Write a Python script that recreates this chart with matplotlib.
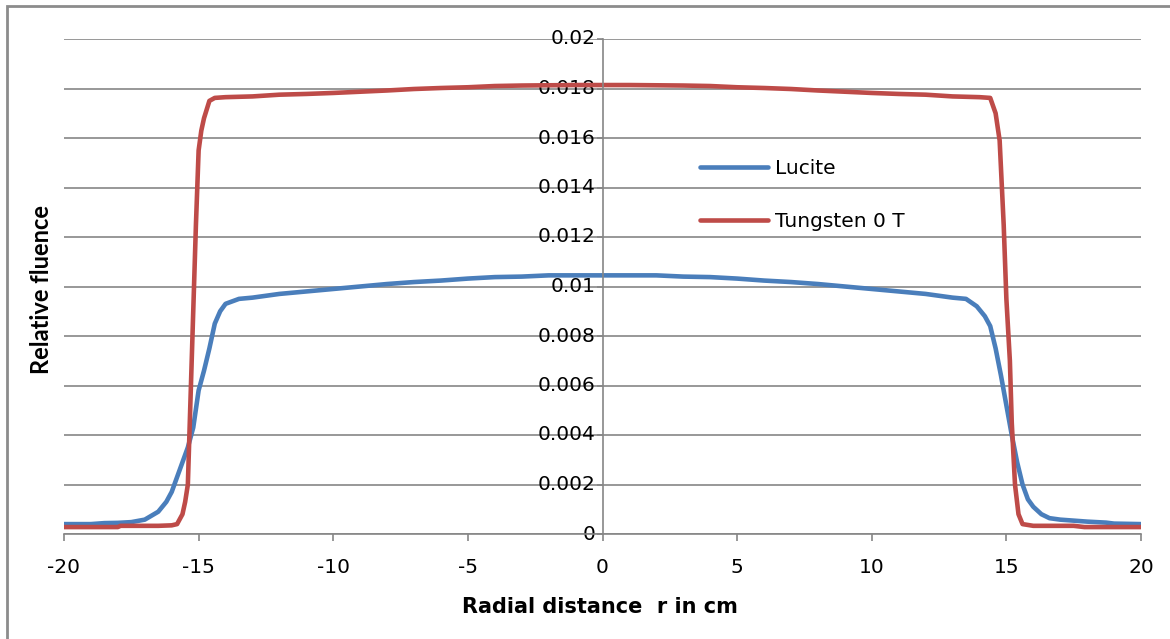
import matplotlib
matplotlib.use('Agg')
from matplotlib import pyplot as plt
from matplotlib.patches import Rectangle

plt.rcParams['axes.unicode_minus'] = False

# Lucite profile (r in cm, relative fluence)
lucite_r = [-20, -19, -18.5, -18, -17.5, -17, -16.5, -16.2, -16, -15.8, -15.6, -15.4, -15.2,
            -15, -14.8, -14.6, -14.4, -14.2, -14, -13.5, -13, -12, -11, -10, -9, -8, -7,
            -6, -5, -4, -3, -2, -1, 0, 1, 2, 3, 4, 5, 6, 7, 8, 9, 10, 11, 12, 13, 13.5,
            13.9, 14.2, 14.4, 14.6, 14.8, 15, 15.2, 15.4, 15.6, 15.8, 16, 16.3, 16.6, 17,
            17.5, 18, 18.7, 19, 20]
lucite_f = [0.00040, 0.00040, 0.00044, 0.00045, 0.00048, 0.00058, 0.0009, 0.0013, 0.0017,
            0.0023, 0.0029, 0.0035, 0.0043, 0.0058, 0.0066, 0.0075, 0.0085, 0.0090, 0.0093,
            0.0095, 0.00955, 0.0097, 0.0098, 0.0099, 0.0100, 0.0101, 0.01018, 0.01024,
            0.01032, 0.01038, 0.0104, 0.01045, 0.01045, 0.01045, 0.01045, 0.01045, 0.0104,
            0.01038, 0.01032, 0.01024, 0.01018, 0.0101, 0.0100, 0.0099, 0.0098, 0.0097,
            0.00955, 0.0095, 0.0092, 0.0088, 0.0084, 0.0075, 0.0064, 0.0052, 0.0040,
            0.0029, 0.0020, 0.0014, 0.0011, 0.0008, 0.00064, 0.00058, 0.00054, 0.00050,
            0.00046, 0.00042, 0.00040]

# Tungsten 0 T profile
tung_r = [-20, -19, -18, -17.9, -17, -16.5, -16, -15.8, -15.6, -15.5, -15.4, -15.3, -15.2,
          -15.1, -15, -14.9, -14.8, -14.6, -14.4, -14, -13, -12, -11, -10, -9, -8, -7, -6,
          -5, -4, -3, -2, -1, 0, 1, 2, 3, 4, 5, 6, 7, 8, 9, 10, 11, 12, 13, 14, 14.4,
          14.6, 14.75, 14.9, 15, 15.13, 15.2, 15.32, 15.45, 15.6, 16, 17, 17.5, 17.9, 19, 20]
tung_f = [0.00028, 0.00028, 0.00028, 0.00033, 0.00033, 0.00033, 0.00035, 0.0004, 0.0008,
          0.0013, 0.0020, 0.0055, 0.0090, 0.0125, 0.0155, 0.0163, 0.0168, 0.0175, 0.01762,
          0.01765, 0.01768, 0.01775, 0.01778, 0.01782, 0.01787, 0.01792, 0.01798, 0.01802,
          0.01805, 0.0181, 0.01812, 0.01813, 0.01814, 0.01814, 0.01814, 0.01813, 0.01812,
          0.0181, 0.01805, 0.01802, 0.01798, 0.01792, 0.01787, 0.01782, 0.01778, 0.01775,
          0.01768, 0.01765, 0.01762, 0.0170, 0.0159, 0.0125, 0.0095, 0.0070, 0.0045,
          0.0020, 0.0008, 0.0004, 0.00033, 0.00033, 0.00033, 0.00028, 0.00028, 0.00028]

x_ticks = [-20, -15, -10, -5, 0, 5, 10, 15, 20]
y_ticks = [0, 0.002, 0.004, 0.006, 0.008, 0.01, 0.012, 0.014, 0.016, 0.018, 0.02]
y_labels = ['0', '0.002', '0.004', '0.006', '0.008', '0.01', '0.012', '0.014',
            '0.016', '0.018', '0.02']

grey = '#868686'

fig = plt.figure(figsize=(11.7, 6.39), dpi=100)
ax = fig.add_axes([64 / 1170, 1 - 534 / 639, 1077 / 1170, 495 / 639])

# chart border (only left and top visible in the original)
fig.add_artist(Rectangle((7 / 1170, -0.1), 1.2, 1.1 - 6 / 639,
                         transform=fig.transFigure, fill=False,
                         edgecolor='#8c8c8c', linewidth=2))

ax.plot(lucite_r, lucite_f, color='#4A7EBB', linewidth=3.3, label='Lucite',
        solid_joinstyle='round', solid_capstyle='round')
ax.plot(tung_r, tung_f, color='#BE4B48', linewidth=3.3, label='Tungsten 0 T',
        solid_joinstyle='round', solid_capstyle='round')

ax.set_xlim(-20, 20)
ax.set_ylim(0, 0.02)
ax.set_xticks(x_ticks)
ax.set_yticks(y_ticks)
ax.set_yticklabels(y_labels)
ax.grid(axis='y', color=grey, linewidth=1.2)
ax.set_axisbelow(True)

for s in ['top', 'right']:
    ax.spines[s].set_visible(False)
ax.spines['left'].set_position(('data', 0))
ax.spines['left'].set_color(grey)
ax.spines['bottom'].set_color(grey)
ax.spines['left'].set_linewidth(1.2)
ax.spines['bottom'].set_linewidth(1.2)

ax.tick_params(axis='x', colors=grey, labelcolor='black', labelsize=14.5,
               length=5, width=1.2, pad=12)
ax.tick_params(axis='y', colors=grey, labelcolor='black', labelsize=14.5,
               length=4, width=1.2, pad=1)
for lbl in ax.get_yticklabels():
    lbl.set_verticalalignment('center')

fig.text(42 / 1170, 1 - 289 / 639, 'Relative fluence', rotation=90,
         ha='center', va='center', fontsize=17, fontweight='bold', family='Lato')
fig.text(600 / 1170, 1 - 607 / 639, 'Radial distance  r in cm',
         ha='center', va='center', fontsize=15, fontweight='bold', family='DejaVu Sans')

ax.legend(loc='center left', bbox_to_anchor=(0.5905, 0.685), frameon=False,
          fontsize=14.5, handlelength=3.4, handletextpad=0.35, labelspacing=1.7,
          borderpad=0, borderaxespad=0)

plt.savefig('out.png', dpi=100)
